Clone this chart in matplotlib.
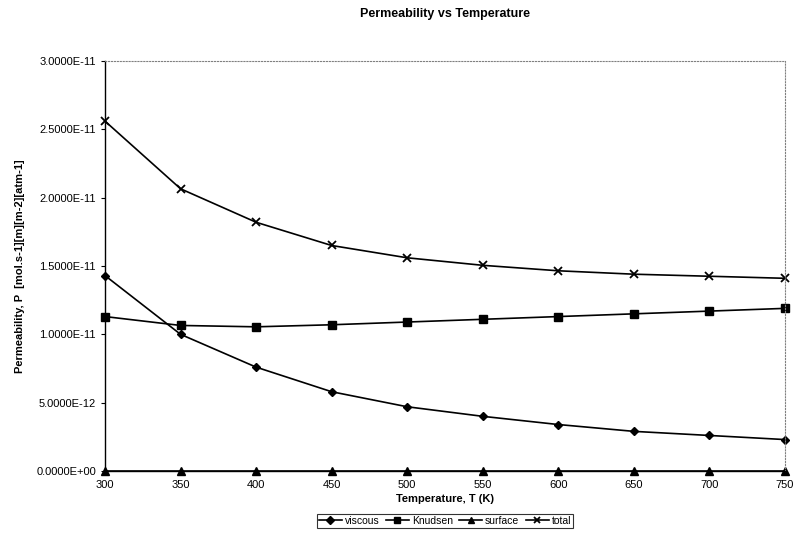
import matplotlib.pyplot as plt
from matplotlib.ticker import FuncFormatter, MultipleLocator

plt.rcParams['font.family'] = ['Liberation Sans', 'DejaVu Sans']

temps = [300, 350, 400, 450, 500, 550, 600, 650, 700, 750]
viscous = [1.43e-11, 1.00e-11, 0.76e-11, 0.58e-11, 0.47e-11, 0.40e-11,
           0.34e-11, 0.29e-11, 0.26e-11, 0.23e-11]
knudsen = [1.13e-11, 1.065e-11, 1.055e-11, 1.07e-11, 1.09e-11, 1.11e-11,
           1.13e-11, 1.15e-11, 1.17e-11, 1.19e-11]
surface = [0, 0, 0, 0, 0, 0, 0, 0, 0, 0]
total = [2.56e-11, 2.065e-11, 1.82e-11, 1.65e-11, 1.56e-11, 1.505e-11,
         1.465e-11, 1.44e-11, 1.425e-11, 1.41e-11]

fig = plt.figure(figsize=(8.01, 5.48), dpi=100)
ax = fig.add_axes([105 / 801, 77 / 548, 680 / 801, 410 / 548])

ax.plot(temps, viscous, color='black', lw=1.2, marker='D', ms=4.5, label='viscous', clip_on=False)
ax.plot(temps, knudsen, color='black', lw=1.2, marker='s', ms=5.5, label='Knudsen', clip_on=False)
ax.plot(temps, surface, color='black', lw=1.2, marker='^', ms=5.5, label='surface', clip_on=False)
ax.plot(temps, total, color='black', lw=1.2, marker='x', ms=6, mew=1.3, label='total', clip_on=False)

ax.set_xlim(300, 750)
ax.set_ylim(0, 3.0e-11)
ax.xaxis.set_major_locator(MultipleLocator(50))
ax.yaxis.set_major_locator(MultipleLocator(5e-12))
ax.yaxis.set_major_formatter(FuncFormatter(lambda v, p: f'{v:.4E}'))
ax.yaxis.get_offset_text().set_visible(False)
ax.xaxis.get_offset_text().set_visible(False)
ax.tick_params(labelsize=8, length=3, direction='out')

for side in ['top', 'right']:
    ax.spines[side].set_color('gray')
    ax.spines[side].set_linestyle(':')
for side in ['left', 'bottom']:
    ax.spines[side].set_linewidth(1.0)

ax.set_title('Permeability vs Temperature', fontsize=9, fontweight='bold', pad=32)
ax.set_xlabel('Temperature, T (K)', fontsize=8, fontweight='bold', labelpad=3)
ax.set_ylabel('Permeability, P  [mol.s-1][m][m-2][atm-1]', fontsize=8,
              fontweight='bold', labelpad=8)

leg = ax.legend(loc='upper center', bbox_to_anchor=(0.5, -0.105), ncol=4,
                fontsize=7.5, frameon=True, fancybox=False, edgecolor='black',
                handlelength=2.2, handletextpad=0.3, columnspacing=0.6,
                borderpad=0.2, borderaxespad=0, markerscale=0.8)
leg.get_frame().set_linewidth(0.8)

plt.savefig('out.png', dpi=100)
